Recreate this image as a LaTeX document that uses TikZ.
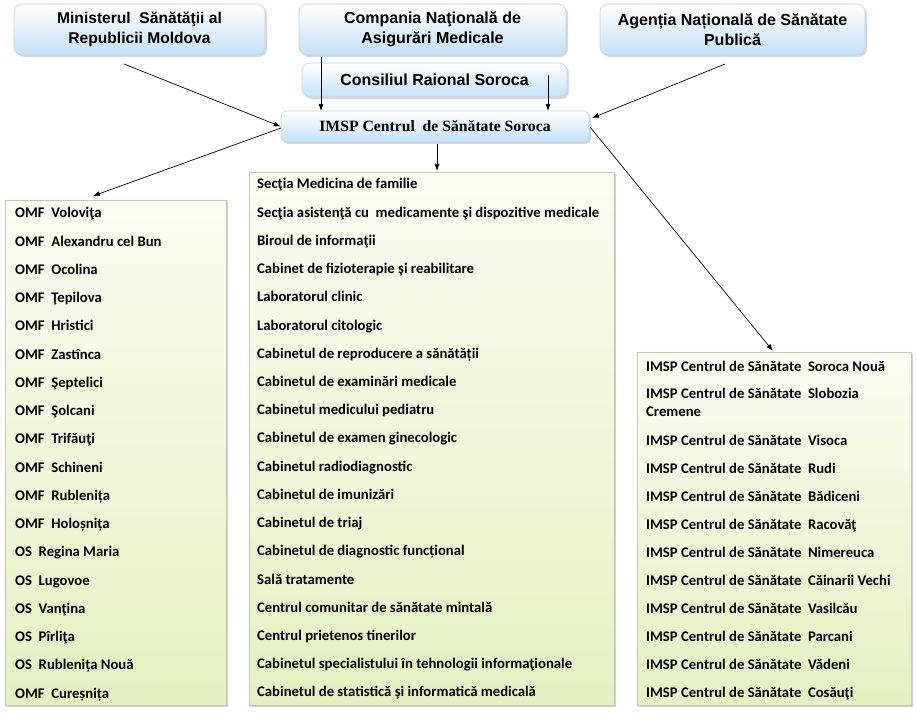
\documentclass[tikz,border=0pt]{standalone}
\usepackage{fontspec}
\setmainfont{Liberation Serif}
\newfontfamily\arialf{Liberation Sans}
\newfontfamily\calf{Carlito}
\usetikzlibrary{shadows,arrows.meta,positioning,calc}
\definecolor{bluetop}{HTML}{FFFFFF}
\definecolor{bluebot}{HTML}{C4E1F8}
\definecolor{blueline}{HTML}{B8D4EC}
\definecolor{greentop}{HTML}{FBFDF1}
\definecolor{greenbot}{HTML}{E3F1C2}
\definecolor{greenline}{HTML}{C4C8B4}
\tikzset{
  topbox/.style={rounded corners=8pt, draw=blueline, line width=0.6pt,
    top color=bluetop, bottom color=bluebot, inner sep=0pt,
    drop shadow={shadow xshift=2pt, shadow yshift=-2pt, opacity=0.25, fill=black!60},
    align=center, font=\arialf\bfseries\fontsize{16}{20}\selectfont},
  listbox/.style={draw=greenline, line width=0.6pt,
    top color=greentop, bottom color=greenbot, inner sep=0pt,
    drop shadow={shadow xshift=2pt, shadow yshift=-2pt, opacity=0.3, fill=black!60}},
  item/.style={anchor=base west, inner sep=0pt, font=\calf\bfseries\fontsize{14.7}{18}\selectfont},
  arr/.style={-{Latex[length=7pt,width=5pt]}, line width=0.7pt, black}
}
\begin{document}
\begin{tikzpicture}[x=1pt,y=-1pt]
\useasboundingbox[fill=white] (0,0) rectangle (916,719);
% top boxes
\node[topbox, minimum width=251pt, minimum height=51pt, font=\arialf\bfseries\fontsize{15.6}{20}\selectfont] (ms) at (139.5,29.5) {Ministerul~ Sănătăţii al\\Republicii Moldova};
\node[topbox, minimum width=267pt, minimum height=51pt] (cn) at (432.5,29.5) {Compania Naţională de\\Asigurări Medicale};
\node[topbox, minimum width=265pt, minimum height=51pt] (an) at (732.5,29.5) {Agenția Națională de Sănătate\\Publică};
\node[topbox, minimum width=265pt, minimum height=34pt] (cr) at (434.5,80) {Consiliul Raional Soroca};
\node[topbox, rounded corners=5pt, minimum width=308pt, minimum height=31pt, font=\bfseries\fontsize{15.7}{18}\selectfont] (imsp) at (435,126.5) {IMSP Centrul~ de Sănătate Soroca};
% list boxes
\node[listbox, minimum width=221pt, minimum height=505pt] (lb) at (115.5,452.5) {};
\node[listbox, minimum width=365pt, minimum height=533pt] (mb) at (431.5,438.5) {};
\node[listbox, minimum width=274pt, minimum height=353pt] (rb) at (774,528.5) {};
% left items
\foreach \t [count=\i from 0] in {OMF~~Voloviţa,OMF~~Alexandru cel Bun,OMF~~Ocolina,OMF~~Ţepilova,OMF~~Hristici,OMF~~Zastînca,OMF~~Şeptelici,OMF~~Şolcani,OMF~~Trifăuţi,OMF~~Schineni,OMF~~Rublenița,OMF~~Holoșnița,OS~~Regina Maria,OS~~Lugovoe,OS~~Vanţina,OS~~Pîrliţa,OS~~Rublenița Nouă,OMF~~Cureșnița}
  \node[item] (l\i) at (15,{218+28.24*\i}) {\t};
% middle items
\foreach \t [count=\i from 0] in {Secţia Medicina de familie,Secţia asistenţă cu~ medicamente şi dispozitive medicale,Biroul de informaţii,Cabinet de fizioterapie şi reabilitare,Laboratorul clinic,Laboratorul citologic,Cabinetul de reproducere a sănătății,Cabinetul de examinări medicale,Cabinetul medicului pediatru,Cabinetul de examen ginecologic,Cabinetul radiodiagnostic,Cabinetul de imunizări,Cabinetul de triaj,Cabinetul de diagnostic funcțional,Sală tratamente,Centrul comunitar de sănătate mintală,Centrul prietenos tinerilor,Cabinetul specialistului în tehnologii informaţionale,Cabinetul de statistică şi informatică medicală}
  \node[item] (m\i) at (257,{189+28.22*\i}) {\t};
% right items
\node[item] (r0) at (646,371) {IMSP Centrul de Sănătate~~Soroca Nouă};
\node[item] (r1) at (646,399) {IMSP Centrul de Sănătate~~Slobozia};
\node[item] (r1b) at (646,417) {Cremene};
\foreach \t [count=\i from 2] in {Visoca,Rudi,Bădiceni,Racovăţ,Nimereuca,Căinarii Vechi,Vasilcău,Parcani,Vădeni,Cosăuţi}
  \node[item] (r\i) at (646,{445+28.1*(\i-2)}) {IMSP Centrul de Sănătate~~\t};
% connector coordinates
\coordinate (msA) at (124,64);
\coordinate (cnA) at (321,57);
\coordinate (cnB) at (321,111);
\coordinate (crA) at (548,75);
\coordinate (crB) at (548,111);
\coordinate (anA) at (725,64);
\coordinate (anB) at (592,118);
\coordinate (imL) at (281,128);
\coordinate (lbT) at (93,196);
\coordinate (imB) at (437,144);
\coordinate (mbT) at (437,171);
\coordinate (imR) at (590,127);
\coordinate (rbT) at (773,351);
% connectors
\draw[arr] (msA) -- (imsp.west);
\draw[arr] (cnA) -- (cnB);
\draw[arr] (crA) -- (crB);
\draw[arr] (anA) -- (anB);
\draw[arr] (imL) -- (lbT);
\draw[arr] (imB) -- (mbT);
\draw[arr] (imR) -- (rbT);
\end{tikzpicture}
\end{document}
